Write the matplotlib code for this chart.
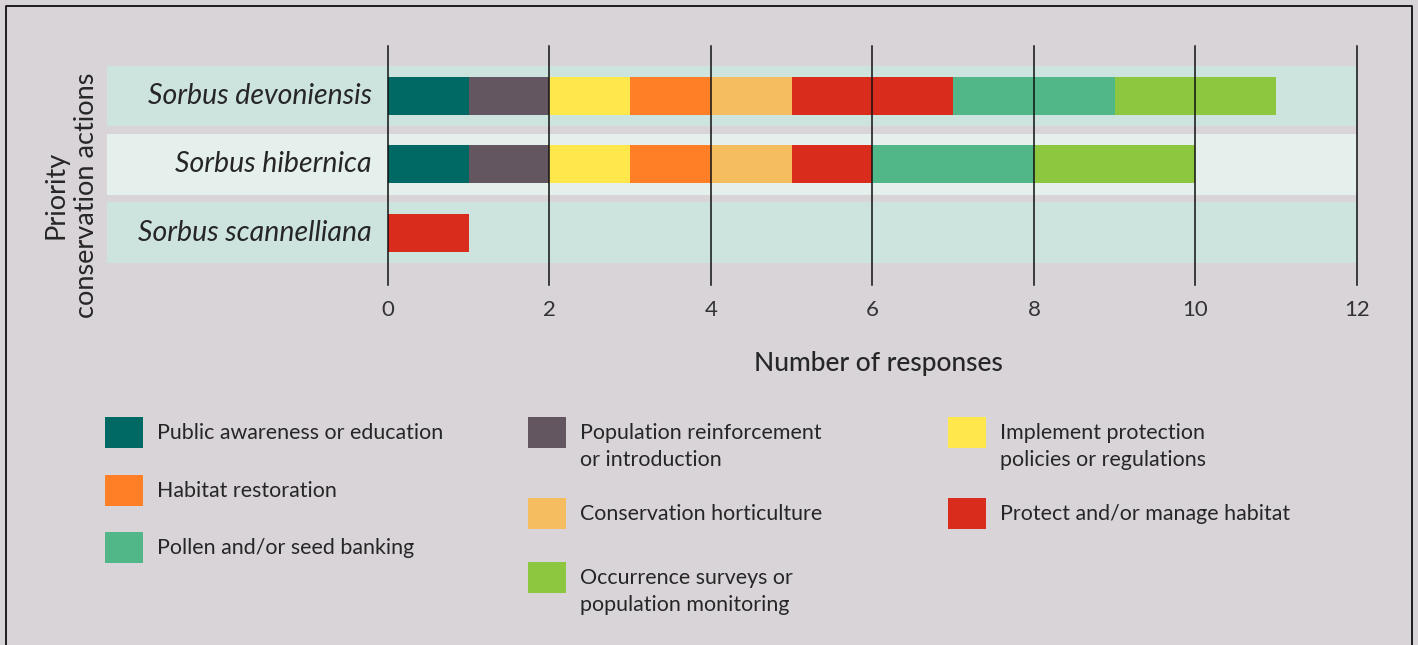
import matplotlib
matplotlib.use("Agg")
import matplotlib.pyplot as plt
import numpy as np

plt.rcParams['font.family'] = ['Lato', 'DejaVu Sans']

# Species (rows, top to bottom)
species = ["Sorbus devoniensis", "Sorbus hibernica", "Sorbus scannelliana"]

# Conservation actions, in stacking order
actions = [
    "Public awareness or education",
    "Population reinforcement\nor introduction",
    "Implement protection\npolicies or regulations",
    "Habitat restoration",
    "Conservation horticulture",
    "Protect and/or manage habitat",
    "Pollen and/or seed banking",
    "Occurrence surveys or\npopulation monitoring",
]

# Number of responses per action, for each species
public_awareness = [1, 1, 0]
population_reinforcement = [1, 1, 0]
implement_protection = [1, 1, 0]
habitat_restoration = [1, 1, 0]
conservation_horticulture = [1, 1, 0]
protect_habitat = [2, 1, 1]
seed_banking = [2, 2, 0]
occurrence_surveys = [2, 2, 0]

series = [public_awareness, population_reinforcement, implement_protection,
          habitat_restoration, conservation_horticulture, protect_habitat,
          seed_banking, occurrence_surveys]

colors = ["#016964", "#645660", "#FFE74C", "#FF7F27",
          "#F5BC60", "#DA2C1D", "#52B788", "#8DC63F"]

x_ticks = [0, 2, 4, 6, 8, 10, 12]

BG = "#D9D4D8"
TEXT = "#262626"
W, H = 1418, 645

fig = plt.figure(figsize=(W / 100, H / 100), dpi=100)
fig.patch.set_facecolor(BG)

# axes box in pixel terms
left_px, right_px, top_px, bot_px = 107, 1357, 46, 285
ax = fig.add_axes([left_px / W, 1 - bot_px / H,
                   (right_px - left_px) / W, (bot_px - top_px) / H])
ax.set_facecolor("none")

px_per_unit = (1357 - 388) / 12
xmin = (left_px - 388) / px_per_unit
xmax = 12
ax.set_xlim(xmin, xmax)
ax.set_ylim(2.76, -0.73)

y = np.arange(len(species))

# row bands
band_colors = ["#CDE3DE", "#E5EFEC", "#CDE3DE"]
ax.barh(y, xmax - xmin, left=xmin, height=0.89, color=band_colors, zorder=0)

# stacked bars
left = np.zeros(len(species))
for vals, c in zip(series, colors):
    vals = np.array(vals, dtype=float)
    ax.barh(y, vals, left=left, height=0.555, color=c, zorder=2, linewidth=0)
    left += vals

# vertical gridlines over the bars
for t in x_ticks:
    ax.axvline(t, color="#111111", linewidth=1.1, zorder=3, clip_on=False)

ax.set_xticks(x_ticks)
ax.set_xticklabels([str(t) for t in x_ticks])
ax.tick_params(axis="x", length=0, pad=11, labelsize=16, labelcolor="#333333")
ax.set_yticks([])
for s in ax.spines.values():
    s.set_visible(False)

# species names
for yi, name in zip(y, species):
    ax.text(-0.2, yi, name, ha="right", va="center", style="italic",
            fontsize=20.5, color=TEXT, zorder=4)

# axis titles
fig.text(878 / W, 1 - 363 / H, "Number of responses", ha="center", va="center",
         fontsize=19, fontweight="medium", color=TEXT)
fig.text(71 / W, 1 - 195 / H, "Priority\nconservation actions", rotation=90,
         ha="center", va="center", multialignment="center",
         fontsize=19.5, color=TEXT, linespacing=1.25)

# legend, three columns laid out by hand
col_x = [105, 528, 948]
col_tops = [[417, 475, 532], [417, 498, 562], [417, 498]]
sw_w, sw_h = 38, 31
line_h = 27
for col in range(3):
    for r, idx in enumerate(range(col, len(actions), 3)):
        top = col_tops[col][r]
        x0 = col_x[col]
        fig.patches.append(plt.Rectangle((x0 / W, 1 - (top + sw_h) / H),
                                         sw_w / W, sw_h / H,
                                         transform=fig.transFigure,
                                         facecolor=colors[idx], edgecolor="none"))
        for k, ln in enumerate(actions[idx].split("\n")):
            fig.text((x0 + 52) / W, 1 - (top + 22 + k * line_h) / H, ln,
                     ha="left", va="baseline", fontsize=15.4, color=TEXT)

# frame lines (left, top, right)
fx = [6 / W, 6 / W, 1412 / W, 1412 / W]
fy = [0, 1 - 6 / H, 1 - 6 / H, 0]
fig.add_artist(plt.Line2D(fx, fy, transform=fig.transFigure,
                          color="#111111", linewidth=1.3))

fig.savefig("out.png", dpi=100, facecolor=BG)
